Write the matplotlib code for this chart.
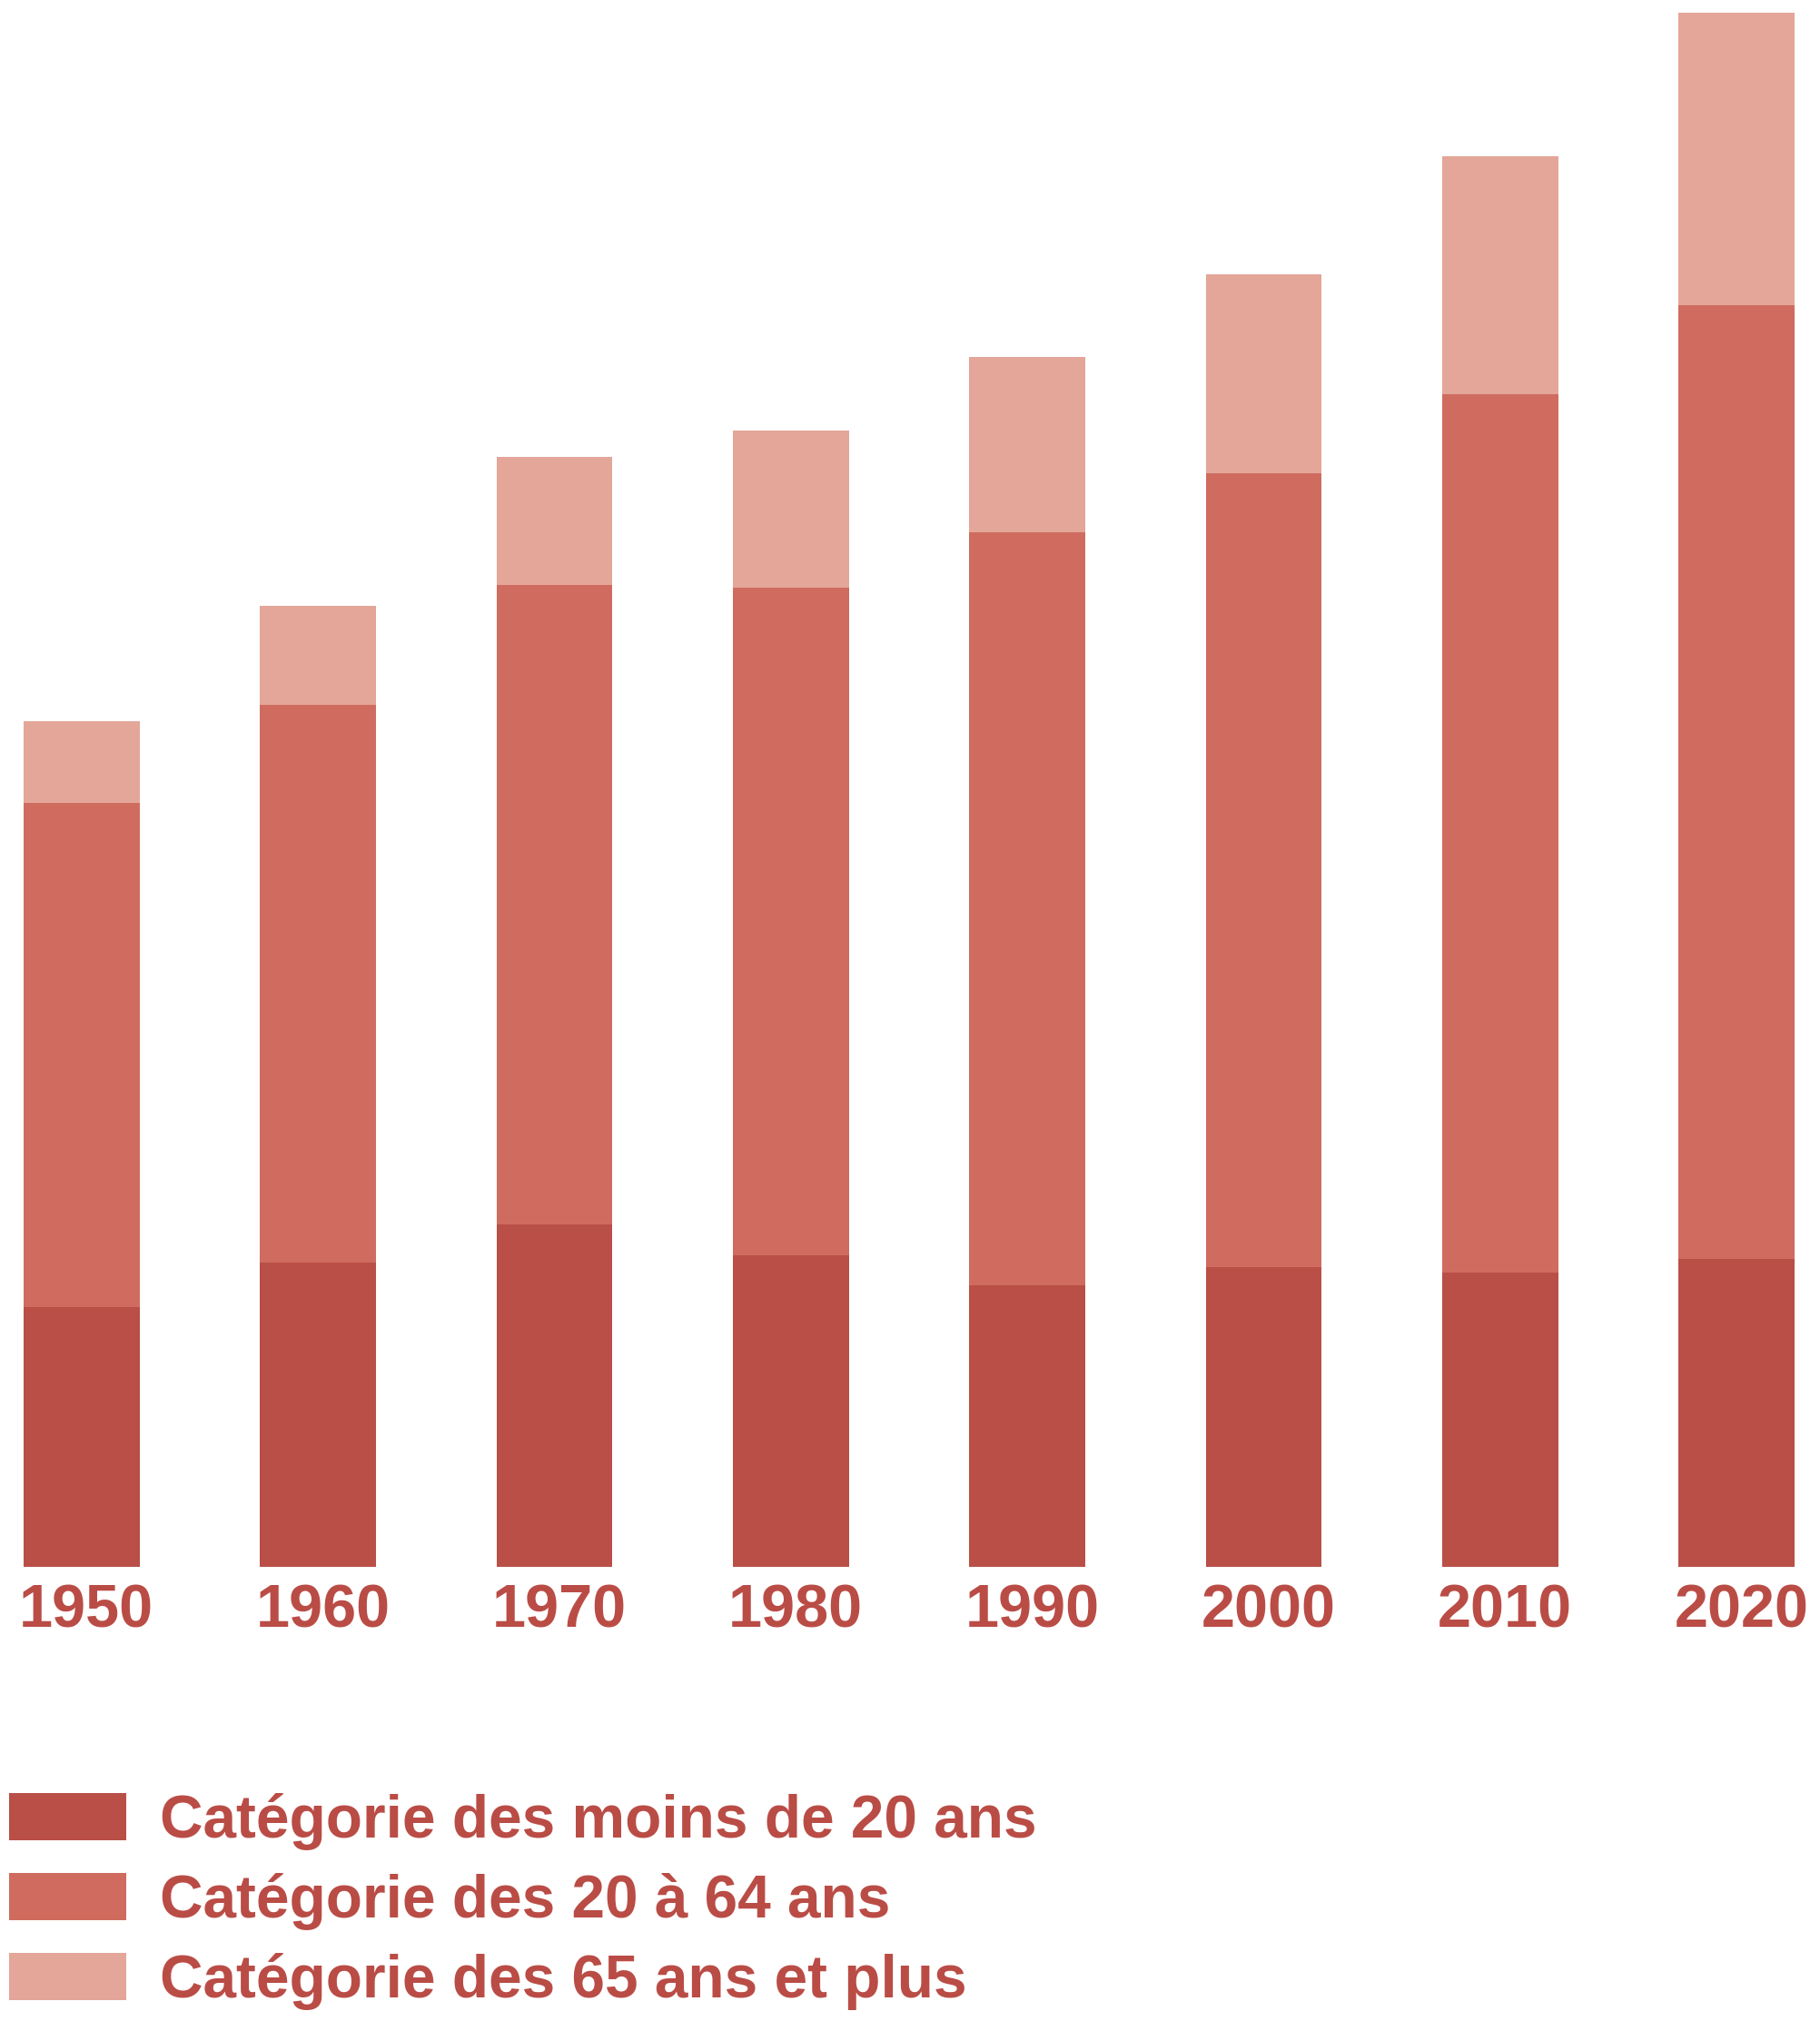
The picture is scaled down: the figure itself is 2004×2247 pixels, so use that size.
import matplotlib
matplotlib.use('Agg')
import matplotlib.pyplot as plt
import numpy as np

# population par catégorie d'âge, en millions
years = ['1950', '1960', '1970', '1980', '1990', '2000', '2010', '2020']
under20 = [1.45, 1.70, 1.91, 1.74, 1.57, 1.67, 1.64, 1.72]
age20_64 = [2.81, 3.11, 3.57, 3.72, 4.20, 4.43, 4.90, 5.32]
age65 = [0.46, 0.55, 0.71, 0.88, 0.98, 1.11, 1.33, 1.63]
labels = ['Catégorie des moins de 20 ans',
          'Catégorie des 20 à 64 ans',
          'Catégorie des 65 ans et plus']

dark = '#B94F47'
mid = '#CF6C5F'
light = '#E3A699'
textcol = '#BA4C46'

plt.rcParams['font.family'] = ['Liberation Sans', 'DejaVu Sans']
plt.rcParams['font.weight'] = 'bold'

W, H = 2004, 2247
fig = plt.figure(figsize=(W / 100, H / 100), dpi=100)
# axes placed in pixel coords: left 26, right 1976, baseline 1725 from top, top 14
ax = fig.add_axes([26 / W, (H - 1725) / H, 1950 / W, (1725 - 14) / H])

x = np.arange(len(years))
w = 0.49
b1 = ax.bar(x, under20, w, color=dark, label=labels[0])
bot = np.array(under20)
b2 = ax.bar(x, age20_64, w, bottom=bot, color=mid, label=labels[1])
bot = bot + np.array(age20_64)
b3 = ax.bar(x, age65, w, bottom=bot, color=light, label=labels[2])
total = bot + np.array(age65)

ax.set_xlim(-w / 2, len(years) - 1 + w / 2)
ax.set_ylim(0, total.max())
ax.set_xticks(x + 0.02)
ax.set_xticklabels(years, fontsize=48, color=textcol, fontweight='bold')
ax.tick_params(axis='x', length=0, pad=13)
ax.set_yticks([])
for s in ax.spines.values():
    s.set_visible(False)

fig.legend(handles=[b1, b2, b3], labels=labels, loc='upper left',
           bbox_to_anchor=(10 / W, (H - 1974) / H), frameon=False,
           labelcolor=textcol, handlelength=1.97,
           handleheight=0.84, handletextpad=0.55, labelspacing=0.38,
           borderpad=0, borderaxespad=0,
           prop={'weight': 'bold', 'size': 47.3})

fig.savefig('out.png', dpi=100)
